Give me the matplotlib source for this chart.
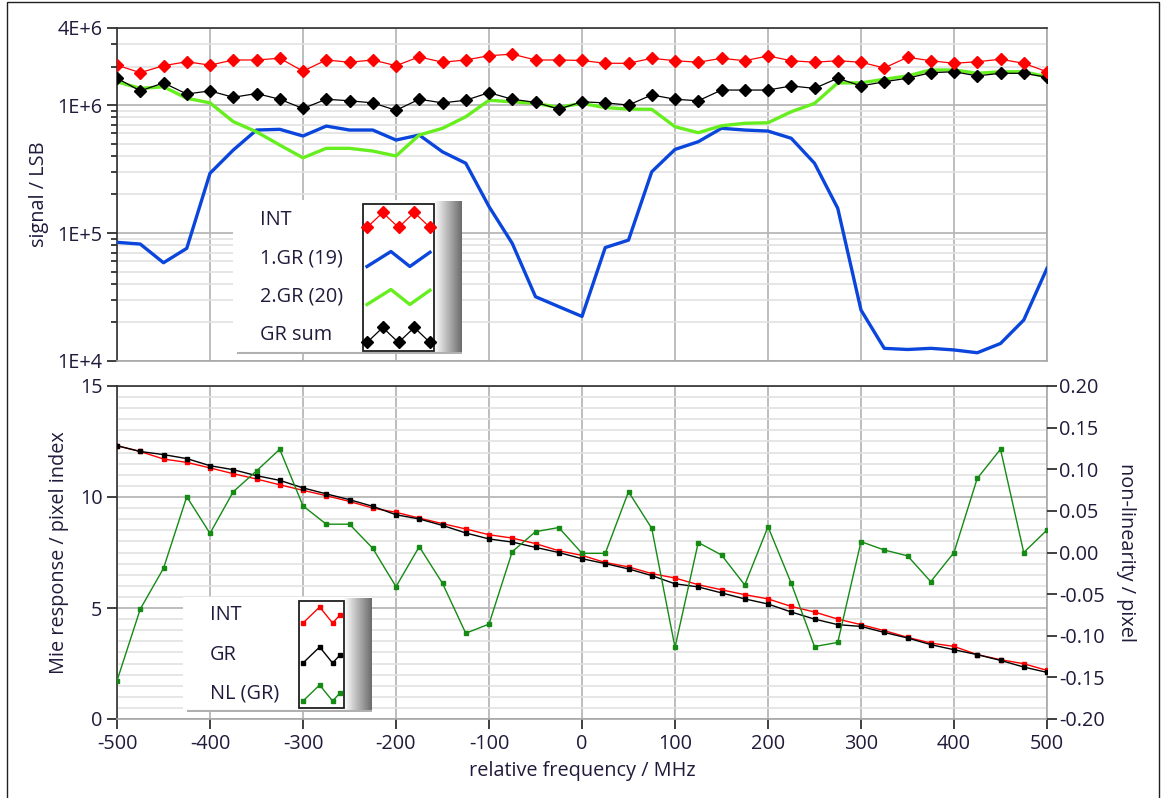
import numpy as np
import matplotlib
matplotlib.use('Agg')
import matplotlib.pyplot as plt
from matplotlib.patches import Rectangle
from matplotlib.ticker import FixedLocator, NullFormatter, MultipleLocator, FuncFormatter

# ---------------- data ----------------
freq = list(range(-500, 501, 25))

int_signal = [2.05e6, 1.79e6, 2.03e6, 2.18e6, 2.05e6, 2.25e6, 2.25e6, 2.32e6, 1.84e6, 2.25e6,
              2.16e6, 2.25e6, 2.03e6, 2.38e6, 2.16e6, 2.25e6, 2.43e6, 2.50e6, 2.25e6, 2.25e6,
              2.23e6, 2.12e6, 2.12e6, 2.32e6, 2.22e6, 2.16e6, 2.32e6, 2.22e6, 2.42e6, 2.22e6,
              2.16e6, 2.22e6, 2.16e6, 1.95e6, 2.36e6, 2.22e6, 2.12e6, 2.18e6, 2.28e6, 2.12e6,
              1.82e6]
gr1_signal = [8.46e4, 8.2e4, 5.86e4, 7.59e4, 2.93e5, 4.45e5, 6.38e5, 6.46e5, 5.73e5, 6.85e5,
              6.38e5, 6.38e5, 5.33e5, 5.83e5, 4.31e5, 3.51e5, 1.61e5, 8.3e4, 3.18e4, 2.66e4,
              2.23e4, 7.7e4, 8.8e4, 3.01e5, 4.5e5, 5.17e5, 6.58e5, 6.38e5, 6.26e5, 5.5e5,
              3.51e5, 1.56e5, 2.5e4, 1.256e4, 1.23e4, 1.256e4, 1.22e4, 1.16e4, 1.37e4, 2.09e4,
              5.3e4]
gr2_signal = [1.52e6, 1.35e6, 1.39e6, 1.13e6, 1.04e6, 7.42e5, 6.18e5, 4.87e5, 3.87e5, 4.59e5,
              4.59e5, 4.37e5, 4.0e5, 5.83e5, 6.58e5, 8.1e5, 1.09e6, 1.06e6, 1.03e6, 9.6e5,
              1.03e6, 9.56e5, 9.3e5, 9.26e5, 6.77e5, 6.08e5, 6.89e5, 7.2e5, 7.27e5, 8.87e5,
              1.03e6, 1.49e6, 1.49e6, 1.59e6, 1.69e6, 1.88e6, 1.88e6, 1.77e6, 1.82e6, 1.82e6,
              1.66e6]
grsum_signal = [1.62e6, 1.29e6, 1.49e6, 1.22e6, 1.29e6, 1.15e6, 1.23e6, 1.11e6, 9.4e5, 1.11e6,
                1.08e6, 1.04e6, 9.1e5, 1.11e6, 1.04e6, 1.09e6, 1.25e6, 1.11e6, 1.05e6, 9.3e5,
                1.06e6, 1.04e6, 1.0e6, 1.20e6, 1.11e6, 1.08e6, 1.31e6, 1.31e6, 1.31e6, 1.41e6,
                1.35e6, 1.62e6, 1.41e6, 1.52e6, 1.62e6, 1.79e6, 1.82e6, 1.69e6, 1.77e6, 1.77e6,
                1.65e6]

int_resp = [12.31, 12.05, 11.71, 11.56, 11.31, 11.05, 10.81, 10.55, 10.30, 10.06,
            9.80, 9.50, 9.31, 9.05, 8.80, 8.56, 8.30, 8.15, 7.90, 7.58,
            7.37, 7.05, 6.85, 6.55, 6.35, 6.05, 5.82, 5.60, 5.41, 5.07,
            4.82, 4.50, 4.25, 3.98, 3.68, 3.42, 3.27, 2.90, 2.67, 2.49,
            2.19]
gr_resp = [12.31, 12.05, 11.91, 11.73, 11.41, 11.23, 10.96, 10.75, 10.41, 10.14,
           9.88, 9.58, 9.20, 9.01, 8.72, 8.38, 8.11, 7.97, 7.73, 7.50,
           7.22, 7.00, 6.76, 6.46, 6.09, 5.95, 5.68, 5.41, 5.18, 4.82,
           4.50, 4.25, 4.17, 3.90, 3.65, 3.35, 3.12, 2.90, 2.64, 2.34,
           2.10]
nl_gr = [-0.154, -0.068, -0.019, 0.067, 0.023, 0.073, 0.098, 0.124, 0.056, 0.034,
         0.034, 0.005, -0.041, 0.007, -0.037, -0.097, -0.086, 0.001, 0.025, 0.030,
         -0.001, -0.001, 0.073, 0.029, -0.114, 0.012, -0.003, -0.039, 0.031, -0.037,
         -0.113, -0.108, 0.013, 0.003, -0.004, -0.035, 0.000, 0.089, 0.124, 0.000,
         0.027]

x_ticks = list(range(-500, 501, 100))
top_ticks = [1e4, 1e5, 1e6, 4e6]
top_tick_labels = ['1E+4', '1E+5', '1E+6', '4E+6']
top_labels = ['INT', '1.GR (19)', '2.GR (20)', 'GR sum']
bot_labels = ['INT', 'GR', 'NL (GR)']

# ---------------- style ----------------
W, H = 1164, 798
plt.rcParams['font.family'] = ['Open Sans', 'DejaVu Sans']
plt.rcParams['axes.unicode_minus'] = False
TXT = '#221a3a'
FS = 14.3
RED = '#ff0000'
BLUE = '#0a46dc'
LGREEN = '#66ee1e'
DGREEN = '#158a15'
GRID = '#b8b8b8'
MINOR = '#e2e2e2'
TICKC = '#303030'

fig = plt.figure(figsize=(W / 100, H / 100), dpi=100)
fig.patch.set_facecolor('white')


def frac(x0, y0, x1, y1):
    return [x0 / W, 1 - y1 / H, (x1 - x0) / W, (y1 - y0) / H]


def style_spines(ax):
    ax.spines['left'].set_color('#303030')
    ax.spines['top'].set_color('#303030')
    ax.spines['right'].set_color('#a8a8a8')
    ax.spines['bottom'].set_color('#a8a8a8')
    for s in ax.spines.values():
        s.set_linewidth(1.2)


# ---------------- top panel ----------------
ax1 = fig.add_axes(frac(117, 28, 1047, 361))
ax1.set_yscale('log')
ax1.set_xlim(-500, 500)
ax1.set_ylim(1e4, 4e6)
ax1.plot(freq, gr1_signal, color=BLUE, lw=2.4, zorder=3)
ax1.plot(freq, gr2_signal, color=LGREEN, lw=2.4, zorder=3)
ax1.plot(freq, grsum_signal, color='black', lw=0.9, marker='D', ms=6.5, zorder=4)
ax1.plot(freq, int_signal, color=RED, lw=0.9, marker='D', ms=6.5, zorder=4)

ax1.yaxis.set_major_locator(FixedLocator(top_ticks))
ax1.set_yticklabels(top_tick_labels)
minor_top = [m * 10 ** e for e in (4, 5) for m in range(2, 10)] + [2e6, 3e6]
ax1.yaxis.set_minor_locator(FixedLocator(minor_top))
ax1.yaxis.set_minor_formatter(NullFormatter())
ax1.set_xticks(x_ticks)
ax1.tick_params(axis='x', length=0, labelbottom=False)
ax1.tick_params(axis='y', which='major', length=7, width=1.3, color=TICKC,
                labelsize=FS, labelcolor=TXT, pad=3.5)
ax1.tick_params(axis='y', which='minor', length=4, width=1.3, color=TICKC)
ax1.grid(True, which='major', color=GRID, lw=1.3)
ax1.grid(True, which='minor', axis='y', color=MINOR, lw=1.2)
ax1.set_axisbelow(True)
ax1.set_ylabel('signal / LSB', fontsize=FS, color=TXT, labelpad=6)
style_spines(ax1)

# ---------------- bottom panel ----------------
ax2 = fig.add_axes(frac(117, 386, 1047, 719))
ax2.set_xlim(-500, 500)
ax2.set_ylim(0, 15)
ax2.plot(freq, int_resp, color=RED, lw=1.0, marker='s', ms=3.3, zorder=3)
ax2.plot(freq, gr_resp, color='black', lw=1.0, marker='s', ms=3.3, zorder=3)
ax2.set_xticks(x_ticks)
ax2.yaxis.set_major_locator(MultipleLocator(5))
ax2.yaxis.set_minor_locator(MultipleLocator(0.5))
ax2.tick_params(axis='y', which='minor', length=0)
ax2.tick_params(axis='y', which='major', length=7, width=1.3, color=TICKC,
                labelsize=FS, labelcolor=TXT, pad=3.5)
ax2.tick_params(axis='x', which='major', length=7, width=1.3, color=TICKC,
                labelsize=FS, labelcolor=TXT, pad=4)
ax2.grid(True, which='major', color=GRID, lw=1.3)
ax2.grid(True, which='minor', axis='y', color=MINOR, lw=1.2)
ax2.set_axisbelow(True)
ax2.set_xlabel('relative frequency / MHz', fontsize=FS, color=TXT, labelpad=5)
ax2.set_ylabel('Mie response / pixel index', fontsize=FS, color=TXT, labelpad=8)
style_spines(ax2)

ax3 = ax2.twinx()
ax3.set_ylim(-0.2, 0.2)
ax3.plot(freq, nl_gr, color=DGREEN, lw=1.0, marker='s', ms=3.3, zorder=3)
ax3.yaxis.set_major_locator(MultipleLocator(0.05))
ax3.yaxis.set_major_formatter(FuncFormatter(lambda v, p: f'{(0.0 if abs(v) < 1e-9 else v):.2f}'))
ax3.tick_params(axis='y', length=7, width=1.3, color=TICKC, labelsize=FS,
                labelcolor=TXT, pad=2)
ax3.set_ylabel('non-linearity / pixel', fontsize=FS, color=TXT, rotation=270, labelpad=22)
for s in ax3.spines.values():
    s.set_visible(False)


# ---------------- legends (LabVIEW style) ----------------
def draw_legend(box, frame, text_x, rows, labels, specs, amp, zig, zig_line):
    x0, y0, x1, y1 = box
    fx0, fy0, fx1, fy1 = frame
    lax = fig.add_axes(frac(x0, y0, x1, y1), zorder=20)
    lax.set_xlim(x0, x1)
    lax.set_ylim(y1, y0)
    lax.axis('off')
    lax.add_patch(Rectangle((x0, y0), x1 - x0, y1 - y0, fc='white', ec='none', zorder=0))
    grad = np.linspace(1.0, 0.42, 64)[None, :]
    lax.imshow(grad, cmap='gray', vmin=0, vmax=1, extent=(fx1, x1, y1 - 1, y0 + 1),
               aspect='auto', zorder=1, interpolation='bilinear')
    lax.plot([x0 + 5, x1], [y1 - 1, y1 - 1], color='#b0b0b0', lw=1.5, zorder=1)
    lax.add_patch(Rectangle((fx0, fy0), fx1 - fx0, fy1 - fy0, fc='white', ec='#202020',
                            lw=1.3, zorder=2))
    ix0, ix1 = fx0 + 4, fx1 - 4
    for yc, lab, (col, lw, mk, ms) in zip(rows, labels, specs):
        lax.text(text_x, yc, lab, fontsize=FS, color=TXT, va='center', ha='left', zorder=3)
        zx, zy = zig if mk else zig_line
        xs = [ix0 + f * (ix1 - ix0) for f in zx]
        ys = [yc - amp * f for f in zy]
        lax.plot(xs, ys, color=col, lw=lw, marker=mk, ms=ms, zorder=3)


draw_legend((233, 200, 462, 354), (363, 204, 434, 351), 260, [220, 259, 297, 335], top_labels,
            [(RED, 0.9, 'D', 6), (BLUE, 2.4, None, 0), (LGREEN, 2.4, None, 0),
             ('black', 0.9, 'D', 6)],
            7.5, ([0, 0.25, 0.5, 0.75, 1.0], [-1, 1, -1, 1, -1]),
            ([0, 0.38, 0.68, 1.0], [-1, 1, -1, 0.9]))

draw_legend((183, 597, 372, 712), (299, 601, 344, 708), 210, [615, 655, 693], bot_labels,
            [(RED, 1.0, 's', 3.3), ('black', 1.0, 's', 3.3), (DGREEN, 1.0, 's', 3.3)],
            8, ([0, 0.45, 0.8, 1.0], [-1, 1, -1, 0]),
            ([0, 0.45, 0.8, 1.0], [-1, 1, -1, 0]))

# figure frame
fig.patches.append(Rectangle((7 / W, -0.01), (1159 - 7) / W, 1.01 - 2 / H, transform=fig.transFigure,
                             fill=False, ec='#202020', lw=1.0))

fig.savefig('out.png', dpi=100, facecolor='white')
